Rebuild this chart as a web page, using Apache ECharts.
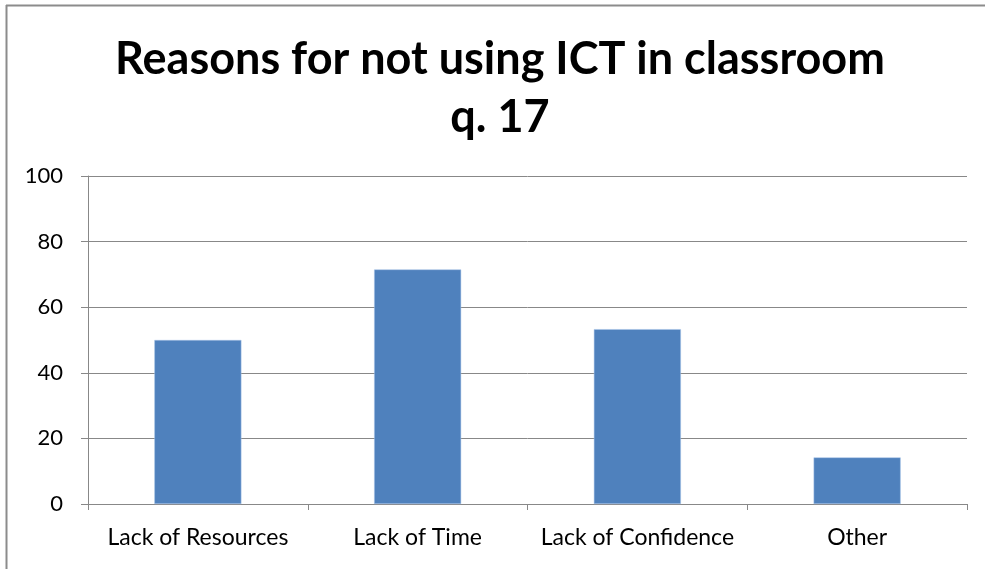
<!DOCTYPE html>
<html>
<head>
<meta charset="utf-8">
<script src="https://cdn.jsdelivr.net/npm/echarts@6/dist/echarts.min.js"></script>
<style>
  html, body { margin: 0; padding: 0; background: #fff; }
  #chart { width: 985px; height: 569px; }
</style>
</head>
<body>
<div id="chart"></div>
<script>
const categories = ["Lack of Resources", "Lack of Time", "Lack of Confidence", "Other"];
const values = [50, 71.5, 53.3, 14.2];
const yTicks = { min: 0, max: 100, interval: 20 };

const chart = echarts.init(document.getElementById("chart"));
const font = "Lato, 'Liberation Sans', sans-serif";

chart.setOption({
  animation: false,
  backgroundColor: "#fff",
  title: {
    text: "Reasons for not using ICT in classroom\nq. 17",
    left: 495,
    top: 25,
    textAlign: "center",
    textStyle: {
      fontFamily: font,
      fontWeight: "bold",
      fontSize: 45,
      lineHeight: 58,
      color: "#000"
    }
  },
  graphic: [
    { type: "line", shape: { x1: 6, y1: 5.5, x2: 985, y2: 5.5 }, style: { stroke: "#8c8c8c", lineWidth: 2 } },
    { type: "line", shape: { x1: 6.5, y1: 5, x2: 6.5, y2: 569 }, style: { stroke: "#8c8c8c", lineWidth: 2 } }
  ],
  grid: { left: 88, right: 18, top: 176, bottom: 65 },
  xAxis: {
    type: "category",
    data: categories,
    axisLine: { lineStyle: { color: "#888", width: 1 } },
    axisTick: { show: true, length: 6, lineStyle: { color: "#888" }, alignWithLabel: false },
    axisLabel: { interval: 0, fontFamily: font, fontSize: 23, color: "#000", margin: 22 }
  },
  yAxis: {
    type: "value",
    min: yTicks.min,
    max: yTicks.max,
    interval: yTicks.interval,
    axisLine: { show: true, lineStyle: { color: "#888", width: 1 } },
    axisTick: { show: true, length: 7, lineStyle: { color: "#888" } },
    splitLine: { lineStyle: { color: "#888", width: 1 } },
    axisLabel: { fontFamily: font, fontSize: 22, color: "#000", margin: 25 }
  },
  series: [
    {
      type: "bar",
      data: values,
      barWidth: "39.6%",
      itemStyle: { color: "#4f81bd", borderColor: "#a9c4e8", borderWidth: 0.5 }
    }
  ]
});
</script>
</body>
</html>
